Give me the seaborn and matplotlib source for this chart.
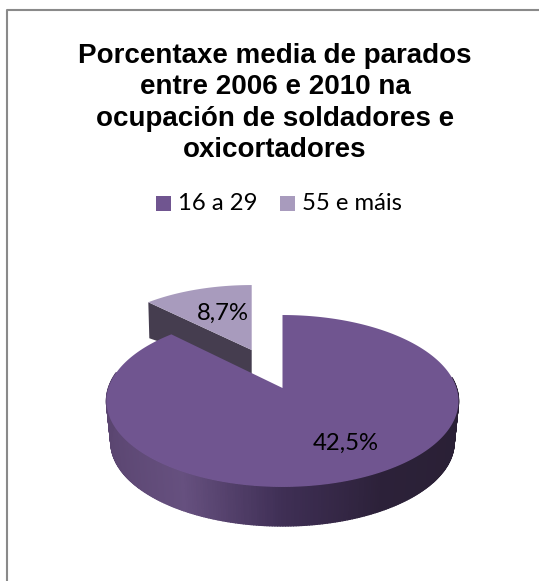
import numpy as np
import matplotlib
matplotlib.use("Agg")
import matplotlib.pyplot as plt
from matplotlib.patches import Polygon, Rectangle
from matplotlib.collections import PolyCollection
from matplotlib.lines import Line2D
import seaborn as sns

# Data
categories = ["16 a 29", "55 e máis"]
wedge_shares = [87.5, 12.5]          # visible sweep of each wedge
value_labels = ["42,5%", "8,7%"]
title_lines = ["Porcentaxe media de parados", "entre 2006 e 2010 na",
               "ocupación de soldadores e", "oxicortadores"]

sns.set_theme(style="white")
colors = ["#705590", "#A89BBD"]
side_ramp = sns.blend_palette(["#5A4570", "#66507F", "#3F2F55", "#2C2139", "#2A2035"], 256)
CUT_FACE = "#453D4F"

W, H = 539, 581
fig = plt.figure(figsize=(W / 100, H / 100), dpi=100, facecolor="white")
ax = fig.add_axes([0, 0, 1, 1])
ax.set_xlim(0, W)
ax.set_ylim(H, 0)
ax.axis("off")

# Pie projection: a tilted disc with perspective
A, B, K = 174.0, 84.0, 0.151
CX, CY = 282.5, 388.0


def rim(theta, sx=1.0, sy=None, ox=CX, oy=CY, dy=0.0):
    """theta clockwise from 12 o'clock, in radians."""
    sy = sx if sy is None else sy
    u, v = np.sin(theta), np.cos(theta)
    d = 1 + K * v
    return ox + sx * A * u / d, oy + dy - sy * B * v / d


fractions = np.array(wedge_shares) / sum(wedge_shares)
sweep0 = 2 * np.pi * fractions[0]

# Exploded small wedge
SX, SY, SSX, SSY = 251.7, 350.0, 0.93, 0.89
th1 = np.linspace(sweep0, 2 * np.pi, 60)
x1, y1 = rim(th1, SSX, SSY, SX, SY)
cx0, cy0 = rim(sweep0, SSX, SSY, SX, SY)
ax.add_patch(Polygon([(cx0, cy0), (SX, SY), (SX, SY + 24), (cx0 + 1, cy0 + 36)],
                     closed=True, fc=CUT_FACE, ec="none", zorder=1))
ax.add_patch(Polygon(np.r_[[[SX, SY]], np.c_[x1, y1]], closed=True,
                     fc=colors[1], ec="none", zorder=2))

# Main wedge side wall
DEPTH, BSCALE = 41.5, 0.975
th = np.linspace(np.pi * 0.46, np.pi * 1.56, 260)
xt, yt = rim(th)
xb, yb = rim(th, BSCALE, dy=DEPTH)
quads, qcols = [], []
for i in range(len(th) - 1):
    quads.append([(xt[i], yt[i]), (xt[i + 1], yt[i + 1]),
                  (xb[i + 1], yb[i + 1]), (xb[i], yb[i])])
    t = (np.clip(np.sin(th[i]), -1, 1) + 1) / 2
    qcols.append(side_ramp[min(255, int(t * 255))])
ax.add_collection(PolyCollection(quads, facecolors=qcols, edgecolors=qcols,
                                 linewidths=1.0, zorder=3))

# Main wedge top
th0 = np.linspace(0, sweep0, 300)
x0, y0 = rim(th0)
ax.add_patch(Polygon(np.r_[[[CX, CY]], np.c_[x0, y0]], closed=True,
                     fc=colors[0], ec="none", zorder=4))

# Value labels
ax.text(345.5, 443, value_labels[0], family="Lato", fontsize=17.2, color="black",
        ha="center", va="center", zorder=5)
ax.text(222.5, 313, value_labels[1], family="Lato", fontsize=17.2, color="black",
        ha="center", va="center", zorder=5)

# Title
for line, yy in zip(title_lines, [63, 94.5, 126, 157]):
    ax.text(275, yy, line, family="Liberation Sans", weight="bold", fontsize=20,
            color="black", ha="center", va="baseline")

# Legend
ax.add_patch(Rectangle((156, 196), 15, 15, fc=colors[0], ec="none"))
ax.text(178, 203, categories[0], family="Lato", fontsize=17.2, color="black", ha="left", va="center")
ax.add_patch(Rectangle((280, 196), 15, 15, fc=colors[1], ec="none"))
ax.text(302, 203, categories[1], family="Lato", fontsize=17.2, color="black", ha="left", va="center")

# Chart frame: only the top and left edges fall inside the crop
frame = dict(color="#8A8A8A", lw=1.5, solid_capstyle="butt")
ax.add_line(Line2D([6.5, 6.5, W], [H, 10, 10], **frame))

fig.savefig("out.png", dpi=100, facecolor="white")
